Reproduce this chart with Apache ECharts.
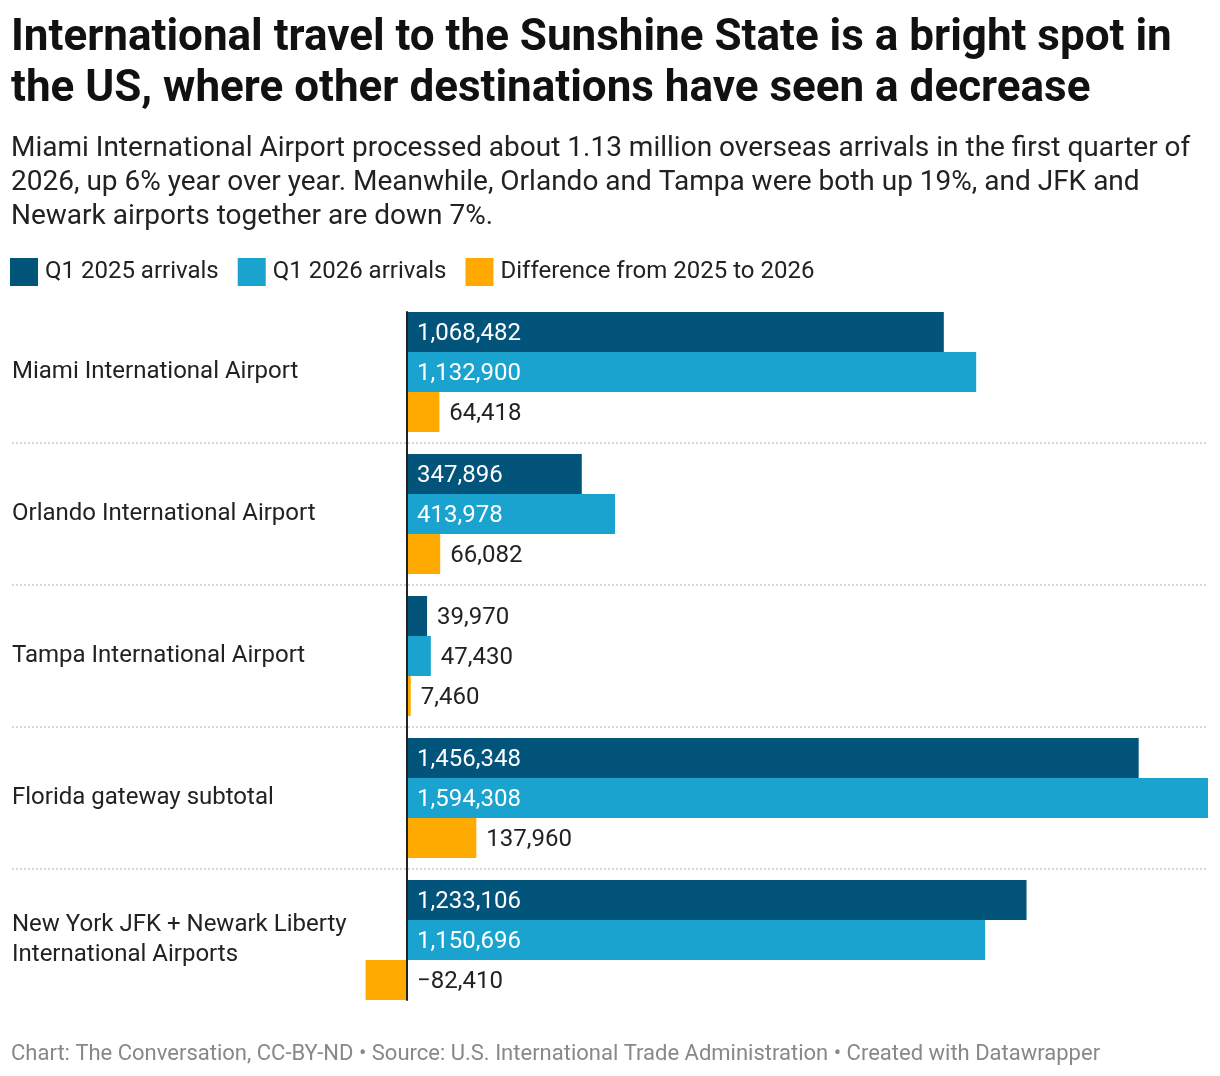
<!DOCTYPE html>
<html>
<head>
<meta charset="utf-8">
<title>International travel to the Sunshine State</title>
<script src="https://cdn.jsdelivr.net/npm/echarts@6/dist/echarts.min.js"></script>
<style>
  html, body { margin: 0; padding: 0; background: #fff; }
  #chart { width: 1220px; height: 1076px; }
</style>
</head>
<body>
<div id="chart"></div>
<script>
// airports, top to bottom
var airports = [
    'Miami International Airport',
    'Orlando International Airport',
    'Tampa International Airport',
    'Florida gateway subtotal',
    'New York JFK + Newark Liberty\nInternational Airports'
];
var q1_2025 = [1068482, 347896, 39970, 1456348, 1233106];
var q1_2026 = [1132900, 413978, 47430, 1594308, 1150696];
var diff = [64418, 66082, 7460, 137960, -82410];

var seriesNames = ['Q1 2025 arrivals', 'Q1 2026 arrivals', 'Difference from 2025 to 2026'];
var colors = ['#03547b', '#1aa3cf', '#ffaa00'];

var FONT = 'Roboto, "Noto Sans", sans-serif';
var X_MIN = -786210, X_MAX = 1594308;

function fmt(v) {
    var s = Math.abs(v).toLocaleString('en-US');
    return v < 0 ? '\u2212' + s : s;
}

// long bars get the label inside (white), short ones outside
function toItems(values) {
    return values.map(function (v) {
        var inside = v > 200000;
        return {
            value: v,
            label: {
                position: inside ? 'insideLeft' : 'right',
                color: inside ? '#fff' : '#222'
            }
        };
    });
}

var chart = echarts.init(document.getElementById('chart'));

var series = [q1_2025, q1_2026, diff].map(function (vals, i) {
    return {
        name: seriesNames[i],
        type: 'bar',
        barWidth: 40,
        barGap: '0%',
        itemStyle: {color: colors[i]},
        label: {
            show: true,
            distance: 10,
            offset: [0, 2],
            fontFamily: FONT,
            fontSize: 24,
            formatter: function (p) { return fmt(p.value); }
        },
        emphasis: {disabled: true},
        data: toItems(vals)
    };
});

var hidden = {show: false};

var option = {
    animation: false,
    color: colors,
    title: [{
        text: 'International travel to the Sunshine State is a bright spot in\nthe US, where other destinations have seen a decrease',
        left: 11,
        top: 13,
        padding: 0,
        textStyle: {
            fontFamily: FONT,
            fontSize: 44,
            fontWeight: 'bold',
            color: '#111',
            lineHeight: 51
        }
    }, {
        text: 'Miami International Airport processed about 1.13 million overseas arrivals in the first quarter of\n2026, up 6% year over year. Meanwhile, Orlando and Tampa were both up 19%, and JFK and\nNewark airports together are down 7%.',
        left: 11,
        top: 132,
        padding: 0,
        textStyle: {
            fontFamily: FONT,
            fontSize: 28,
            fontWeight: 'normal',
            color: '#222',
            lineHeight: 34
        }
    }, {
        text: 'Chart: The Conversation, CC-BY-ND \u2022 Source: U.S. International Trade Administration \u2022 Created with Datawrapper',
        left: 11,
        top: 1043,
        padding: 0,
        textStyle: {
            fontFamily: FONT,
            fontSize: 22,
            fontWeight: 'normal',
            color: '#888'
        }
    }],
    legend: {
        left: 10,
        top: 258,
        padding: 0,
        icon: 'rect',
        itemWidth: 28,
        itemHeight: 28,
        itemGap: 19,
        selectedMode: false,
        textStyle: {
            fontFamily: FONT,
            fontSize: 24,
            color: '#222',
            padding: [0, 0, 0, 2]
        },
        data: seriesNames
    },
    grid: [{
        left: 12,
        right: 12,
        top: 301,
        height: 710,
        containLabel: false,
        outerBoundsMode: 'none'
    }, {
        // only carries the zero line, spanning the bars
        left: 12,
        right: 12,
        top: 312,
        height: 688,
        containLabel: false,
        outerBoundsMode: 'none'
    }],
    xAxis: [{
        type: 'value',
        min: X_MIN,
        max: X_MAX,
        axisLine: hidden,
        axisTick: hidden,
        axisLabel: hidden,
        splitLine: hidden
    }, {
        type: 'value',
        gridIndex: 1,
        min: X_MIN,
        max: X_MAX,
        axisLine: hidden,
        axisTick: hidden,
        axisLabel: hidden,
        splitLine: hidden
    }],
    yAxis: [{
        type: 'category',
        inverse: true,
        data: airports,
        axisLine: {show: false, onZero: false},
        axisTick: hidden,
        axisLabel: {
            align: 'left',
            margin: 0,
            fontFamily: FONT,
            fontSize: 24,
            lineHeight: 30,
            color: '#222'
        },
        splitLine: {
            show: true,
            showMinLine: false,
            showMaxLine: false,
            lineStyle: {color: '#ccc', width: 1.5, type: [2, 2]}
        }
    }, {
        type: 'value',
        gridIndex: 1,
        min: 0,
        max: 1,
        z: 10,
        axisLine: {
            show: true,
            onZero: true,
            lineStyle: {color: '#222', width: 2}
        },
        axisTick: hidden,
        axisLabel: hidden,
        splitLine: hidden
    }],
    series: series
};

chart.setOption(option);
</script>
</body>
</html>
